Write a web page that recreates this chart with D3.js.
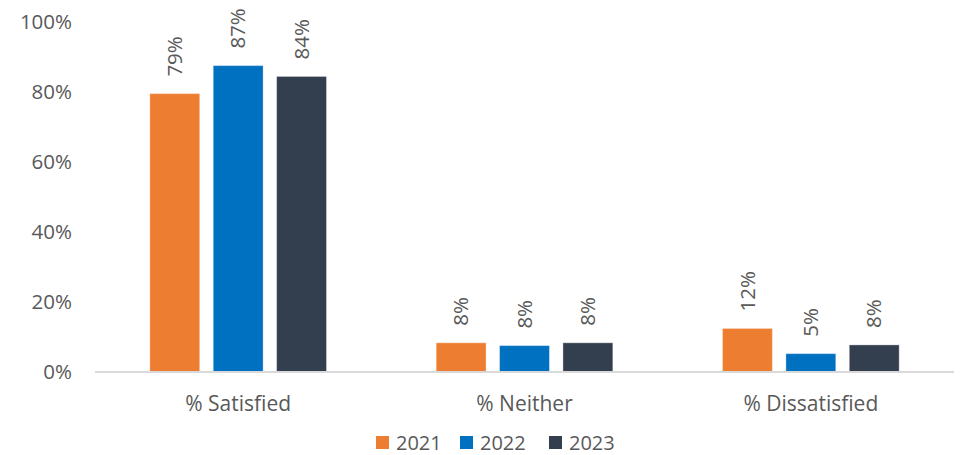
<!DOCTYPE html>
<html>
<head>
<meta charset="utf-8">
<script src="https://cdn.jsdelivr.net/npm/d3@7"></script>
<style>
  html, body { margin: 0; padding: 0; background: #fff; }
  svg { display: block; }
  text { font-family: "Open Sans", "Noto Sans", sans-serif; fill: #595959; }
</style>
</head>
<body>
<svg id="chart" width="964" height="455"></svg>
<script>
const categories = ["% Satisfied", "% Neither", "% Dissatisfied"];
const seriesNames = ["2021", "2022", "2023"];
const values2021 = [79.4, 8.2, 12.3];
const values2022 = [87.4, 7.4, 5.1];
const values2023 = [84.3, 8.2, 7.6];
const labels2021 = ["79%", "8%", "12%"];
const labels2022 = ["87%", "8%", "5%"];
const labels2023 = ["84%", "8%", "8%"];
const yTicks = [0, 20, 40, 60, 80, 100];
const colors = ["#ED7D31", "#0070C0", "#333F4F"];

(function () {
const seriesValues = [values2021, values2022, values2023];
const seriesLabels = [labels2021, labels2022, labels2023];

const svg = d3.select("#chart");
const mLeft = 95, mRight = 954, mTop = 21.5, mBottom = 371.5;

const x0 = d3.scaleBand().domain(categories).range([mLeft, mRight]).paddingInner(0.383).paddingOuter(0.1915);
const x1 = d3.scaleBand().domain(seriesNames).range([0, x0.bandwidth()]).paddingInner(0.213).paddingOuter(0);
const y = d3.scaleLinear().domain([0, 100]).range([mBottom, mTop]);

// y axis labels
const yAxis = d3.axisLeft(y).tickValues(yTicks).tickFormat(d => d + "%").tickSize(0).tickPadding(0);
const ya = svg.append("g").attr("transform", `translate(${mLeft - 23},0)`).call(yAxis);
ya.select(".domain").remove();
ya.selectAll("text").attr("font-size", 20.5).attr("dy", "0.35em").style("font-family", "'Open Sans', sans-serif").attr("fill", "#595959");

// groups
const groups = svg.append("g").selectAll("g").data(categories).join("g")
  .attr("transform", d => `translate(${x0(d)},0)`);

groups.each(function(cat, ci) {
  const g = d3.select(this);
  seriesNames.forEach((s, si) => {
    const v = seriesValues[si][ci];
    g.append("rect")
      .attr("x", x1(s))
      .attr("y", y(v))
      .attr("width", x1.bandwidth())
      .attr("height", y(0) - y(v))
      .attr("fill", colors[si])
      .attr("stroke", "#fff")
      .attr("stroke-opacity", 0.35)
      .attr("stroke-width", 1);
    const cx = x1(s) + x1.bandwidth() / 2;
    const ty = y(v) - 17;
    g.append("text")
      .attr("transform", `translate(${cx},${ty}) rotate(-90)`)
      .attr("text-anchor", "start")
      .attr("dy", "0.35em")
      .attr("font-size", 20.5)
      .text(seriesLabels[si][ci]);
  });
});

// x axis line
svg.append("line").attr("x1", mLeft).attr("x2", mRight).attr("y1", mBottom + 0.5).attr("y2", mBottom + 0.5)
  .attr("stroke", "#d9d9d9").attr("stroke-width", 2);

// x axis labels
const xAxis = d3.axisBottom(x0).tickSize(0).tickPadding(0);
const xa = svg.append("g").attr("transform", `translate(0,${mBottom})`).call(xAxis);
xa.select(".domain").remove();
xa.selectAll("text").attr("font-size", 21).attr("y", 32).attr("dy", "0.35em")
  .style("font-family", "'Open Sans', sans-serif").attr("fill", "#595959");

// legend
const legendX = [376, 460, 549];
const legend = svg.append("g");
seriesNames.forEach((s, i) => {
  legend.append("rect").attr("x", legendX[i]).attr("y", 436).attr("width", 13).attr("height", 13).attr("fill", colors[i]);
  legend.append("text").attr("x", legendX[i] + 20).attr("y", 442.5).attr("dy", "0.35em")
    .attr("font-size", 20).text(s);
});
})();
</script>
</body>
</html>
